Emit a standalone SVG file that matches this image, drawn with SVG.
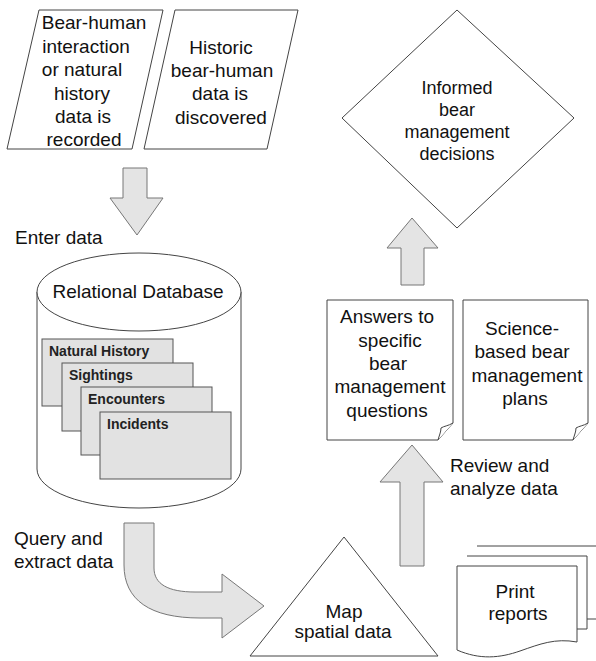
<svg xmlns="http://www.w3.org/2000/svg" width="596" height="661" viewBox="0 0 596 661">
<style>
.shape{fill:#fff;stroke:#444;stroke-width:1}
.card{fill:#e2e2e2;stroke:#555;stroke-width:1}
.arrow{fill:#e4e4e4;stroke:#777;stroke-width:1}
.t{font-family:"Liberation Sans",Arial,sans-serif;font-size:19px;fill:#111;text-anchor:middle}
.l{font-family:"Liberation Sans",Arial,sans-serif;font-size:19px;fill:#111}
.b{font-family:"Liberation Sans",Arial,sans-serif;font-size:14px;font-weight:bold;fill:#222}
.d{font-family:"Liberation Sans",Arial,sans-serif;font-size:18px;fill:#111;text-anchor:middle}
</style>
<rect width="596" height="661" fill="#fff"/>

<g id="recorded">
<polygon class="shape" points="39,10 163,10 132,149 7,149"/>
<text class="t"><tspan x="94" y="29">Bear-human</tspan><tspan x="86" y="52.5">interaction</tspan><tspan x="82" y="76">or natural</tspan><tspan x="82" y="99.5">history</tspan><tspan x="83" y="123">data is</tspan><tspan x="84" y="146">recorded</tspan></text>
</g>

<g id="historic">
<polygon class="shape" points="175,10 298,10 267,149 144,149"/>
<text class="t"><tspan x="221" y="53.5">Historic</tspan><tspan x="222" y="77">bear-human</tspan><tspan x="220" y="100">data is</tspan><tspan x="221" y="123.5">discovered</tspan></text>
</g>

<g id="database">
<path class="shape" d="M37,292 V469 A102,39 0 0 0 241,469 V292"/>
<ellipse class="shape" cx="139" cy="292" rx="102" ry="39"/>
<text class="t" x="138" y="298">Relational Database</text>
<rect class="card" x="42" y="339" width="131" height="67"/>
<text class="b" x="49" y="356">Natural History</text>
<rect class="card" x="62" y="363" width="131" height="68"/>
<text class="b" x="69" y="380">Sightings</text>
<rect class="card" x="81" y="387" width="131" height="68"/>
<text class="b" x="88" y="404">Encounters</text>
<rect class="card" x="100" y="412" width="131" height="67"/>
<text class="b" x="107" y="429">Incidents</text>
</g>

<g id="map">
<polygon class="shape" points="344,537 438,656 250,656"/>
<text class="t"><tspan x="344" y="618">Map</tspan><tspan x="343" y="638">spatial data</tspan></text>
</g>

<g id="print">
<path class="shape" d="M477,546 H597 V619 H587"/>
<path class="shape" d="M467,556 H587 V629 H577"/>
<path class="shape" d="M457,566 H577 V642 C555,638 540,644 520,651 C500,658 480,660 457,650 Z"/>
<text class="t"><tspan x="515" y="598">Print</tspan><tspan x="518" y="620">reports</tspan></text>
</g>

<g id="answers">
<path class="shape" d="M327,300 H453 V423 L438,440 H327 Z"/>
<path class="shape" d="M453,423 C448,426 444,426 441,428 C441,432 439,436 438,440"/>
<text class="t"><tspan x="387" y="323">Answers to</tspan><tspan x="390" y="347">specific</tspan><tspan x="388" y="370">bear</tspan><tspan x="390" y="393">management</tspan><tspan x="387" y="417">questions</tspan></text>
</g>

<g id="plans">
<path class="shape" d="M463,300 H588 V423 L573,440 H463 Z"/>
<path class="shape" d="M588,423 C583,426 579,426 576,428 C576,432 574,436 573,440"/>
<text class="t"><tspan x="522" y="335">Science-</tspan><tspan x="522" y="358">based bear</tspan><tspan x="527" y="382">management</tspan><tspan x="525" y="405">plans</tspan></text>
</g>

<g id="decisions">
<polygon class="shape" points="457,10 574,118 457,228 342,118"/>
<text class="d"><tspan x="457" y="94">Informed</tspan><tspan x="457" y="116">bear</tspan><tspan x="457" y="138">management</tspan><tspan x="457" y="160">decisions</tspan></text>
</g>

<g id="connectors">
<polygon class="arrow" points="123,168 147,168 147,198 163,198 137,235 110,198 123,198"/>
<path class="arrow" d="M124,523 H154 V568 C154,584 168,592 195,592 H222 V574 L264,606 L222,638 V618 H200 C150,618 124,600 124,565 Z"/>
<polygon class="arrow" points="400,566 424,566 424,482 443,482 412,445 380,482 400,482"/>
<polygon class="arrow" points="401,285 424,285 424,248 438,248 412,218 387,248 401,248"/>
<text class="l" x="15" y="244">Enter data</text>
<text class="l"><tspan x="14" y="545">Query and</tspan><tspan x="14" y="568">extract data</tspan></text>
<text class="l"><tspan x="450" y="472">Review and</tspan><tspan x="450" y="495">analyze data</tspan></text>
</g>
</svg>
